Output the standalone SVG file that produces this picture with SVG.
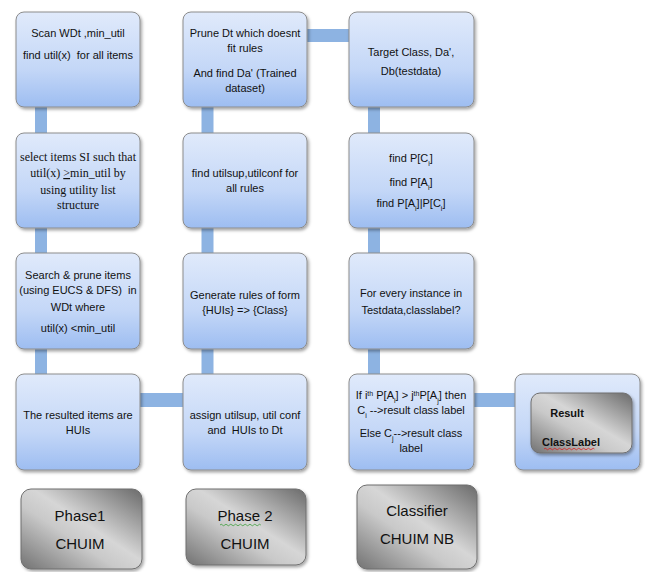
<svg xmlns="http://www.w3.org/2000/svg" width="645" height="572" viewBox="0 0 645 572">
<defs>
<linearGradient id="blue" x1="0" y1="0" x2="0" y2="1">
<stop offset="0" stop-color="#e0eafb"/>
<stop offset="0.6" stop-color="#c4d7f7"/>
<stop offset="1" stop-color="#9dbdf1"/>
</linearGradient>
<linearGradient id="gray" x1="1" y1="0" x2="0" y2="1">
<stop offset="0" stop-color="#6a6a6a"/>
<stop offset="0.45" stop-color="#d6d6d6"/>
<stop offset="0.6" stop-color="#c9c9c9"/>
<stop offset="1" stop-color="#727272"/>
</linearGradient>
<filter id="sh" x="-10%" y="-10%" width="125%" height="125%">
<feDropShadow dx="1.5" dy="2" stdDeviation="1.5" flood-color="#000" flood-opacity="0.35"/>
</filter>
</defs>
<style>
.box{fill:url(#blue);stroke:#8c8c8c;stroke-width:1;filter:url(#sh)}
.gbox{fill:url(#gray);stroke:#6f6f6f;stroke-width:1;filter:url(#sh)}
.bar{fill:#8db3e2}
.t{font-family:"Liberation Sans",Arial,sans-serif;font-size:11px;fill:#111;text-anchor:middle;white-space:pre}
.s{font-family:"Liberation Serif","Times New Roman",serif;font-size:12px;fill:#111;text-anchor:middle}
.g{font-family:"Liberation Sans",Arial,sans-serif;font-size:15px;fill:#111;text-anchor:middle}
.b{font-family:"Liberation Sans",Arial,sans-serif;font-size:11px;font-weight:bold;fill:#111;text-anchor:middle}
.sm{font-size:7px}
</style>
<g id="connectors">
<rect class="bar" x="35" y="100" width="12" height="280"/>
<rect class="bar" x="201.5" y="100" width="12" height="280"/>
<rect class="bar" x="368" y="100" width="12" height="280"/>
<rect class="bar" x="300" y="29" width="55" height="13"/>
<rect class="bar" x="135" y="393" width="55" height="14"/>
<rect class="bar" x="468" y="393" width="52" height="14"/>
</g>
<g id="n1">
<rect class="box" x="16" y="12" width="124" height="95" rx="8"/>
<text class="t" x="78" y="37">Scan WDt ,min_util</text>
<text class="t" x="78" y="59" xml:space="preserve">find util(x)  for all items</text>
</g>
<g id="n2">
<rect class="box" x="183" y="12" width="124" height="95" rx="8"/>
<text class="t" x="245" y="37">Prune Dt which doesnt</text>
<text class="t" x="245" y="52">fit rules</text>
<text class="t" x="245" y="77">And find Da' (Trained</text>
<text class="t" x="245" y="92">dataset)</text>
</g>
<g id="n3">
<rect class="box" x="349" y="12" width="125" height="95" rx="8"/>
<text class="t" x="411" y="56">Target Class, Da',</text>
<text class="t" x="411" y="75">Db(testdata)</text>
</g>
<g id="n4">
<rect class="box" x="16" y="133" width="124" height="95" rx="8"/>
<text class="s" x="78" y="161">select items SI such that</text>
<text class="s" x="78" y="177">util(x) <tspan text-decoration="underline">&gt;</tspan>min_util by</text>
<text class="s" x="78" y="194">using utility list</text>
<text class="s" x="78" y="209">structure</text>
</g>
<g id="n5">
<rect class="box" x="183" y="133" width="124" height="95" rx="8"/>
<text class="t" x="245" y="177">find utilsup,utilconf for</text>
<text class="t" x="245" y="192">all rules</text>
</g>
<g id="n6">
<rect class="box" x="349" y="133" width="125" height="95" rx="8"/>
<text class="t" x="411" y="162">find P[C<tspan class="sm" baseline-shift="sub">i</tspan>]</text>
<text class="t" x="411" y="186">find P[A<tspan class="sm" baseline-shift="sub">i</tspan>]</text>
<text class="t" x="411" y="207">find P[A<tspan class="sm" baseline-shift="sub">i</tspan>]|P[C<tspan class="sm" baseline-shift="sub">i</tspan>]</text>
</g>
<g id="n7">
<rect class="box" x="16" y="253" width="124" height="96" rx="8"/>
<text class="t" x="78" y="279">Search &amp; prune items</text>
<text class="t" x="78" y="294" xml:space="preserve">(using EUCS &amp; DFS)  in</text>
<text class="t" x="78" y="311">WDt where</text>
<text class="t" x="78" y="332">util(x) &lt;min_util</text>
</g>
<g id="n8">
<rect class="box" x="183" y="253" width="124" height="96" rx="8"/>
<text class="t" x="245" y="299">Generate rules of form</text>
<text class="t" x="245" y="314">{HUIs} =&gt; {Class}</text>
</g>
<g id="n9">
<rect class="box" x="349" y="253" width="125" height="96" rx="8"/>
<text class="t" x="411" y="297">For every instance in</text>
<text class="t" x="411" y="314">Testdata,classlabel?</text>
</g>
<g id="n10">
<rect class="box" x="16" y="374" width="124" height="96" rx="8"/>
<text class="t" x="78" y="419">The resulted items are</text>
<text class="t" x="78" y="434">HUIs</text>
</g>
<g id="n11">
<rect class="box" x="183" y="374" width="124" height="96" rx="8"/>
<text class="t" x="245" y="419">assign utilsup, util conf</text>
<text class="t" x="245" y="434" xml:space="preserve">and  HUIs to Dt</text>
</g>
<g id="n12">
<rect class="box" x="349" y="374" width="125" height="96" rx="8"/>
<text class="t" x="411" y="399">If i<tspan class="sm" baseline-shift="super">th</tspan> P[A<tspan class="sm" baseline-shift="sub">i</tspan>] &gt; j<tspan class="sm" baseline-shift="super">th</tspan>P[A<tspan class="sm" baseline-shift="sub">j</tspan>] then</text>
<text class="t" x="411" y="414">C<tspan class="sm" baseline-shift="sub">i</tspan> --&gt;result class label</text>
<text class="t" x="411" y="437">Else C<tspan class="sm" baseline-shift="sub">j</tspan>--&gt;result class</text>
<text class="t" x="411" y="452">label</text>
</g>
<g id="n13">
<rect class="box" x="515" y="374" width="125" height="96" rx="8"/>
<rect class="gbox" x="531" y="393" width="101" height="60" rx="9"/>
<text class="b" x="567" y="417">Result</text>
<text class="b" x="571" y="446">ClassLabel</text>
<path d="M544 449 q1.2 -1.5 2.4 0 t2.4 0 t2.4 0 t2.4 0 t2.4 0 t2.4 0 t2.4 0 t2.4 0 t2.4 0 t2.4 0 t2.4 0 t2.4 0 t2.4 0 t2.4 0 t2.4 0 t2.4 0 t2.4 0 t2.4 0 t2.4 0 t2.4 0 t2.4 0" fill="none" stroke="#e02020" stroke-width="0.8"/>
</g>
<g id="n14">
<rect class="gbox" x="21" y="489" width="121" height="80" rx="10"/>
<text class="g" x="80" y="521">Phase1</text>
<text class="g" x="80" y="549">CHUIM</text>
</g>
<g id="n15">
<rect class="gbox" x="186" y="489" width="120" height="76" rx="10"/>
<text class="g" x="245" y="521">Phase 2</text>
<text class="g" x="245" y="549">CHUIM</text>
<path d="M220 525 q1.2 -1.5 2.4 0 t2.4 0 t2.4 0 t2.4 0 t2.4 0 t2.4 0 t2.4 0 t2.4 0 t2.4 0 t2.4 0 t2.4 0 t2.4 0 t2.4 0 t2.4 0 t2.4 0 t2.4 0 t2.4 0" fill="none" stroke="#3aa03a" stroke-width="0.8"/>
</g>
<g id="n16">
<rect class="gbox" x="357" y="485" width="120" height="84" rx="10"/>
<text class="g" x="417" y="516">Classifier</text>
<text class="g" x="417" y="544">CHUIM NB</text>
</g>
</svg>
